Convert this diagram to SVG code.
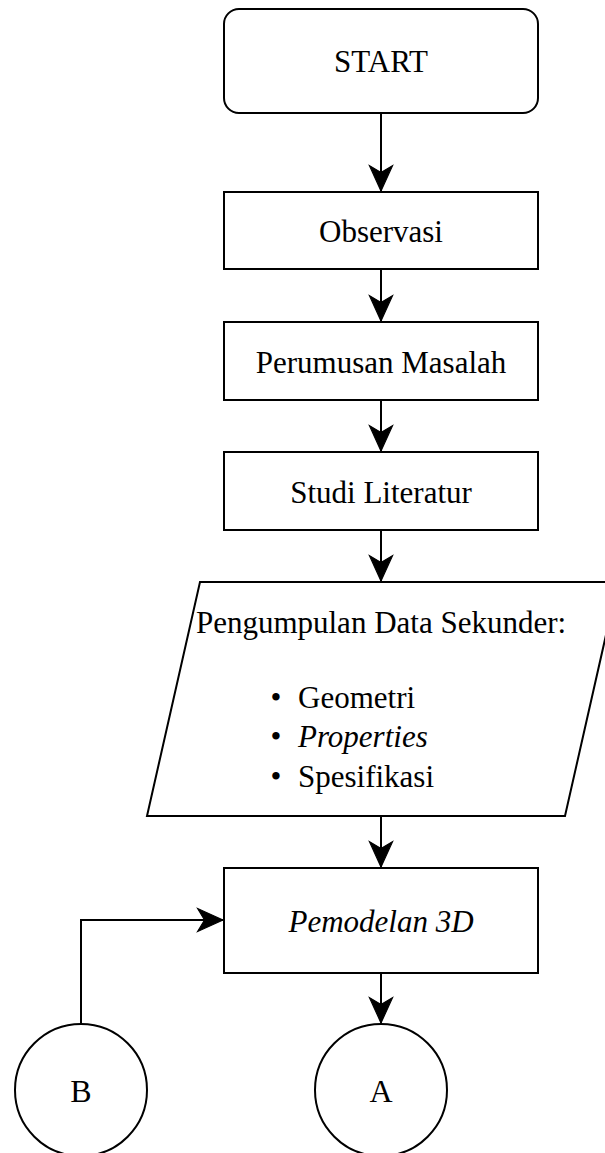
<svg xmlns="http://www.w3.org/2000/svg" width="605" height="1153" viewBox="0 0 605 1153">
<style>
.s{fill:#fff;stroke:#000;stroke-width:2}
.t{font-family:"Liberation Serif","Times New Roman",serif;font-size:31px;fill:#000}
.c{text-anchor:middle}
.i{font-style:italic}
.m{font-family:"Liberation Serif","Times New Roman",serif;font-size:32px;fill:#000;text-anchor:middle}
.e{fill:none;stroke:#000;stroke-width:2}
</style>
<defs>
<marker id="ah" markerUnits="userSpaceOnUse" markerWidth="30" markerHeight="30" viewBox="-24 -12 26 24" refX="0" refY="0" orient="auto">
<path d="M0,0 L-22,-10 L-16,0 L-22,10 Z" fill="#000" stroke="#000" stroke-width="1"/>
</marker>
</defs>
<rect width="605" height="1153" fill="#fff"/>
<g id="connectors">
<path class="e" d="M381,113 L381,191" marker-end="url(#ah)"/>
<path class="e" d="M381,269 L381,321" marker-end="url(#ah)"/>
<path class="e" d="M381,400 L381,451" marker-end="url(#ah)"/>
<path class="e" d="M381,530 L381,581" marker-end="url(#ah)"/>
<path class="e" d="M381,816 L381,867" marker-end="url(#ah)"/>
<path class="e" d="M381,973 L381,1023" marker-end="url(#ah)"/>
<path class="e" d="M81,1024 L81,920 L223,920" marker-end="url(#ah)"/>
</g>
<g id="start">
<rect class="s" x="224" y="9" width="314" height="104" rx="15"/>
<text class="t c" x="381" y="72">START</text>
</g>
<g id="observasi">
<rect class="s" x="224" y="192" width="314" height="77"/>
<text class="t c" x="381" y="242">Observasi</text>
</g>
<g id="perumusan">
<rect class="s" x="224" y="322" width="314" height="78"/>
<text class="t c" x="381" y="373">Perumusan Masalah</text>
</g>
<g id="studi">
<rect class="s" x="224" y="452" width="314" height="78"/>
<text class="t c" x="381" y="503">Studi Literatur</text>
</g>
<g id="data">
<polygon class="s" points="200,582 618,582 565,816 147,816"/>
<text class="t c" x="381" y="633">Pengumpulan Data Sekunder:</text>
<text class="t c" x="276" y="708">•</text>
<text class="t" x="298" y="708">Geometri</text>
<text class="t c" x="276" y="747">•</text>
<text class="t i" x="298" y="747">Properties</text>
<text class="t c" x="276" y="787">•</text>
<text class="t" x="298" y="787">Spesifikasi</text>
</g>
<g id="pemodelan">
<rect class="s" x="224" y="868" width="314" height="105"/>
<text class="t c i" x="381" y="932">Pemodelan 3D</text>
</g>
<g id="b">
<circle class="s" cx="81" cy="1090" r="66"/>
<text class="m" x="81" y="1102">B</text>
</g>
<g id="a">
<circle class="s" cx="381" cy="1090" r="66"/>
<text class="m" x="381" y="1102">A</text>
</g>
</svg>
